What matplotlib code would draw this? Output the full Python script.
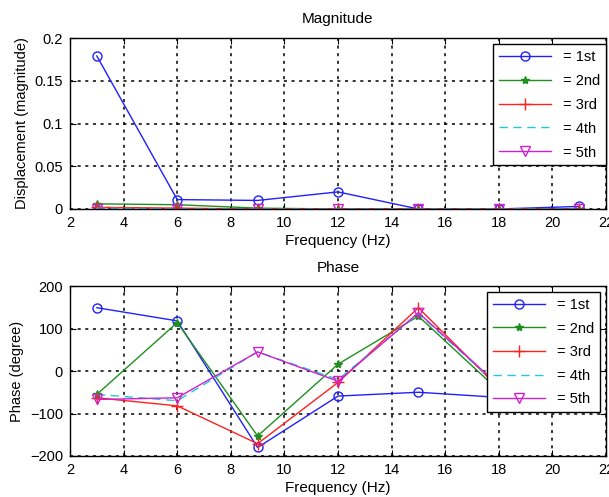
import matplotlib.pyplot as plt
import numpy as np

plt.rcParams['font.family'] = ['Liberation Sans', 'DejaVu Sans']

freq = [3, 6, 9, 12, 15, 18, 21]
labels = ['= 1st', '= 2nd', '= 3rd', '= 4th', '= 5th']

# magnitude values
mag_1st = [0.179, 0.011, 0.010, 0.020, 0.000, 0.000, 0.003]
mag_2nd = [0.006, 0.005, 0.001, 0.000, 0.000, 0.000, 0.000]
mag_3rd = [0.002, 0.001, 0.000, 0.000, 0.000, 0.000, 0.000]
mag_4th = [0.001, 0.000, 0.000, 0.000, 0.000, 0.000, 0.000]
mag_5th = [0.000, 0.000, 0.000, 0.000, 0.000, 0.000, 0.000]

# phase values (deg); 18 and 21 Hz are mostly hidden behind the legend
ph_1st = [149, 118, -180, -59, -50, -62, -68]
ph_2nd = [-55, 114, -153, 16, 129, -46, -55]
ph_3rd = [-63, -82, -171, -27, 149, -40, -50]
ph_4th = [-55, -70, 45, -20, 135, -35, -45]
ph_5th = [-67, -63, 45, -24, 137, -33, -42]

colors = ['#2020ff', '#1f8f1f', '#ff2020', '#20c8d8', '#d020d0']
styles = [
    dict(marker='o', ms=6.5, mfc='none', ls='-'),
    dict(marker='*', ms=6, ls='-'),
    dict(marker='+', ms=9, ls='-'),
    dict(marker='', ls=(0, (6, 4))),
    dict(marker='v', ms=6.5, mfc='none', ls='-'),
]

fig = plt.figure(figsize=(6.09, 4.97), dpi=100)
ax1 = fig.add_axes([0.115, 0.5795, 0.880, 0.344])
ax2 = fig.add_axes([0.115, 0.0825, 0.880, 0.342])


def style_axes(ax):
    ax.set_xlim(2, 22)
    ax.set_xticks(np.arange(2, 23, 2))
    ax.grid(True, color='black', ls=(0, (2, 3)), lw=1.1)
    ax.tick_params(direction='in', top=True, right=True, labelsize=10.5,
                   length=4, pad=5)
    for s in ax.spines.values():
        s.set_linewidth(1.0)
    ax.set_xlabel('Frequency (Hz)', fontsize=11, labelpad=3)


mags = [mag_1st, mag_2nd, mag_3rd, mag_4th, mag_5th]
for vals, c, st, lab in zip(mags, colors, styles, labels):
    ax1.plot(freq, vals, color=c, lw=1.0, mew=1.0, label=lab, **st)
style_axes(ax1)
ax1.set_ylim(0, 0.2)
ax1.set_yticks([0, 0.05, 0.1, 0.15, 0.2])
ax1.set_yticklabels(['0', '0.05', '0.1', '0.15', '0.2'])
ax1.set_ylabel('Displacement (magnitude)', fontsize=10.5, labelpad=4)
ax1.set_title('Magnitude', fontsize=11, pad=11)
ax1.legend(loc='upper right', bbox_to_anchor=(1.0, 0.965), borderaxespad=0,
           fontsize=10.5, handlelength=3.6, labelspacing=0.68, fancybox=False,
           framealpha=1, edgecolor='black')

phases = [ph_1st, ph_2nd, ph_3rd, ph_4th, ph_5th]
for vals, c, st, lab in zip(phases, colors, styles, labels):
    ax2.plot(freq, vals, color=c, lw=1.0, mew=1.0, label=lab, **st)
style_axes(ax2)
ax2.set_ylim(-200, 200)
ax2.set_yticks([-200, -100, 0, 100, 200])
ax2.set_ylabel('Phase (degree)', fontsize=10.5, labelpad=4)
ax2.set_title('Phase', fontsize=11, pad=10)
ax2.legend(loc='upper right', bbox_to_anchor=(0.989, 0.964), borderaxespad=0,
           fontsize=10.5, handlelength=3.6, labelspacing=0.66, fancybox=False,
           framealpha=1, edgecolor='black')

plt.savefig('out.png', dpi=100)
